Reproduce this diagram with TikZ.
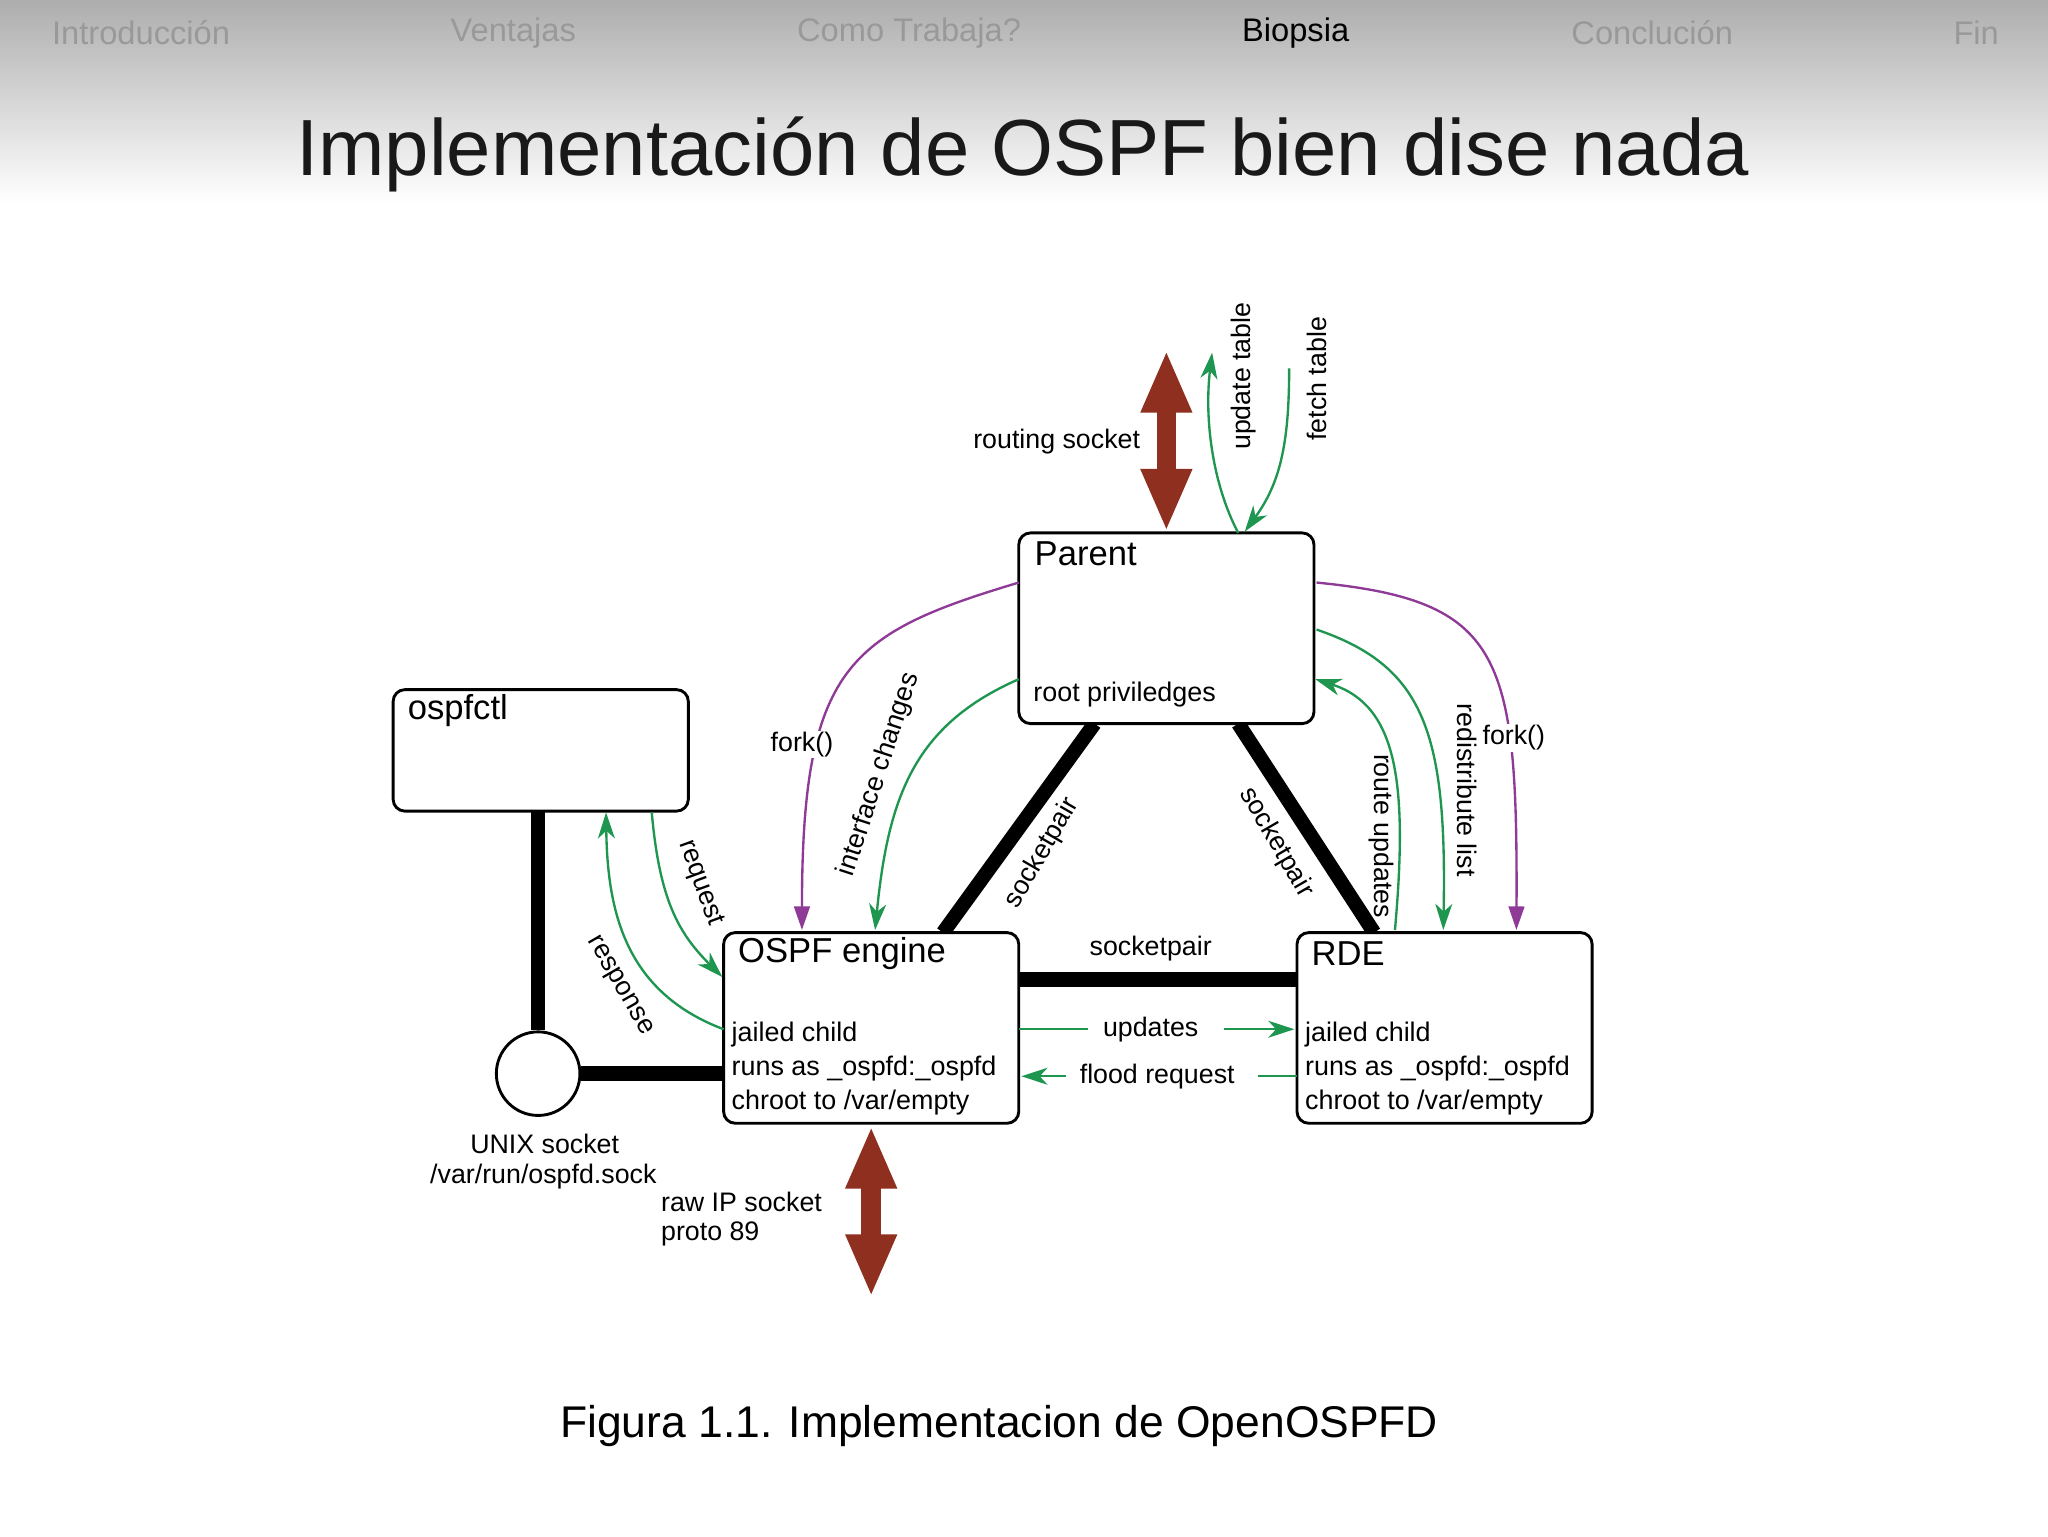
\documentclass[tikz,border=0pt]{standalone}
\usepackage{fontspec}
\setmainfont{Liberation Sans}
\usetikzlibrary{arrows.meta}
\definecolor{grn}{HTML}{1E9650}
\definecolor{prp}{HTML}{8E3A96}
\definecolor{rust}{HTML}{8E2F1F}
\begin{document}
\begin{tikzpicture}[x=1pt,y=-1pt,
  box/.style={draw,line width=2.2pt,rounded corners=9pt,inner sep=0},
  lbl/.style={font=\fontsize{20.5}{22}\selectfont,inner sep=1pt},
  btitle/.style={font=\fontsize{26.5}{28}\selectfont,anchor=west,inner sep=0},
  btxt/.style={font=\fontsize{20.6}{25}\selectfont,anchor=west,inner sep=0},
  nav/.style={font=\fontsize{25}{27}\selectfont,text=black!40},
  thick line/.style={line width=11pt},
  garrow/.style={grn,line width=1.8pt,-{Stealth[length=20pt,width=13pt,inset=6pt]}},
  parrow/.style={prp,line width=1.8pt,-{Triangle[length=18pt,width=12pt]}},
  dbl/.style={rust,line width=15pt,{Triangle[length=48pt,width=36pt]}-{Triangle[length=48pt,width=36pt]}}]
\useasboundingbox (0,0) rectangle (1568,1176);
\fill[white] (0,0) rectangle (1568,1176);
\shade[top color=black!32,bottom color=white] (0,0) rectangle (1568,155);
% nav
\node[nav] (n1) at (108,25) {Introducción};
\node[nav] (n2) at (393,25) {Ventajas};
\node[nav] (n3) at (696,25) {Como Trabaja?};
\node[nav,text=black] (n4) at (992,25) {Biopsia};
\node[nav] (n5) at (1265,25) {Conclución};
\node[nav] (n6) at (1513,25) {Fin};
\node[font=\fontsize{61}{63}\selectfont,text=black!90] (title) at (783,118) {Implementación de OSPF bien dise nada};
\node[font=\fontsize{34}{36}\selectfont] (cap) at (765,1092) {Figura 1.1. Implementacion de OpenOSPFD};
% thick connectors
\node[draw,circle,line width=2.2pt,minimum size=64pt,inner sep=0] (unix) at (412,822) {};
\coordinate (ctlb) at (412,621);
\coordinate (engl) at (554,822);
\draw[thick line] (ctlb) -- (unix.north);
\draw[thick line] (unix.east) -- (engl);
\coordinate (p1) at (838,554); \coordinate (e1) at (722,714);
\coordinate (p2) at (948,554); \coordinate (r2) at (1052,714);
\coordinate (e3) at (780,750); \coordinate (r3) at (993,750);
\draw[thick line] (p1) -- (e1);
\draw[thick line] (p2) -- (r2);
\draw[thick line] (e3) -- (r3);
% boxes
\node[box,fill=white,minimum width=226pt,minimum height=146pt] (parent) at (893,481) {};
\node[box,fill=white,minimum width=226pt,minimum height=93pt] (ctl) at (414,574.5) {};
\node[box,fill=white,minimum width=226pt,minimum height=146pt] (eng) at (667,787) {};
\node[box,fill=white,minimum width=226pt,minimum height=146pt] (rde) at (1106,787) {};
\node[btitle] (pt) at (792,424) {Parent};
\node[btxt] (pr) at (791,532) {root priviledges};
\node[btitle] (ct) at (312,544) {ospfctl};
\node[btitle] (et) at (565,730) {OSPF engine};
\node[btitle] (rt) at (1004,730) {RDE};
\foreach \x/\n in {560/e,999/r}{
  \node[btxt] (\n a) at (\x,792) {jailed child};
  \node[btxt] (\n b) at (\x,818) {runs as \_ospfd:\_ospfd};
  \node[btxt] (\n c) at (\x,844) {chroot to /var/empty};
}
% red double arrows
\coordinate (rs1) at (893,268); \coordinate (rs2) at (893,407);
\draw[dbl] (rs1) -- (rs2);
\coordinate (ip1) at (667,862); \coordinate (ip2) at (667,993);
\draw[dbl] (ip1) -- (ip2);
\node[lbl] (rsl) at (809,338) {routing socket};
\node[lbl,anchor=west] (ipl1) at (505,920) {raw IP socket};
\node[lbl,anchor=west] (ipl2) at (505,945) {proto 89};
\node[lbl] (ul1) at (417,876) {UNIX socket};
\node[lbl] (ul2) at (416,901) {/var/run/ospfd.sock};
% green arrows
\coordinate (ut0) at (948,408); \coordinate (ut1) at (928,270);
\draw[garrow] (ut0) .. controls (928,370) and (922,320) .. (ut1);
\coordinate (ft0) at (987,282); \coordinate (ft1) at (953,407);
\draw[garrow] (ft0) .. controls (987,340) and (980,370) .. (ft1);
\node[lbl,rotate=90] (utl) at (952,288) {update table};
\node[lbl,rotate=90] (ftl) at (1008,290) {fetch table};
\coordinate (ic0) at (780,520); \coordinate (ic1) at (670,712);
\draw[garrow] (ic0) .. controls (700,555) and (680,610) .. (ic1);
\node[lbl,rotate=72] (icl) at (673,593) {interface changes};
\coordinate (ru0) at (1068,712); \coordinate (ru1) at (1007,520);
\draw[garrow] (ru0) .. controls (1078,600) and (1070,540) .. (ru1);
\node[lbl,rotate=-90] (rul) at (1058,640) {route updates};
\coordinate (rd0) at (1008,482); \coordinate (rd1) at (1105,712);
\draw[garrow] (rd0) .. controls (1090,510) and (1108,560) .. (rd1);
\node[lbl,rotate=-90] (rdl) at (1123,605) {redistribute list};
\coordinate (rq0) at (499,622); \coordinate (rq1) at (553,748);
\draw[garrow] (rq0) .. controls (505,690) and (520,715) .. (rq1);
\node[lbl,rotate=-70] (rql) at (536,676) {request};
\coordinate (rp0) at (554,788); \coordinate (rp1) at (464,622);
\draw[garrow] (rp0) .. controls (480,760) and (465,700) .. (rp1);
\node[lbl,rotate=-60] (rpl) at (474,755) {response};
\coordinate (up0) at (780,788); \coordinate (up1) at (833,788);
\coordinate (up2) at (937,788); \coordinate (up3) at (991,788);
\draw[grn,line width=1.8pt] (up0) -- (up1);
\draw[garrow] (up2) -- (up3);
\node[lbl] (upl) at (881,788) {updates};
\coordinate (fr0) at (993,824); \coordinate (fr1) at (963,824);
\coordinate (fr2) at (816,824); \coordinate (fr3) at (782,824);
\draw[grn,line width=1.8pt] (fr0) -- (fr1);
\draw[garrow] (fr2) -- (fr3);
\node[lbl] (frl) at (886,824) {flood request};
% purple forks
\coordinate (fl0) at (780,446); \coordinate (fl1) at (614,712);
\draw[parrow] (fl0) .. controls (650,485) and (614,510) .. (fl1);
\node[lbl,fill=white] (fll) at (614,570) {fork()};
\coordinate (fr0b) at (1008,446); \coordinate (fr1b) at (1161,712);
\draw[parrow] (fr0b) .. controls (1150,460) and (1162,500) .. (fr1b);
\node[lbl,fill=white] (frb) at (1159,565) {fork()};
% socketpair labels
\node[lbl,rotate=60] (sp1) at (798,653) {socketpair};
\node[lbl,rotate=-60] (sp2) at (977,645) {socketpair};
\node[lbl] (sp3) at (881,726) {socketpair};
\end{tikzpicture}
\end{document}
